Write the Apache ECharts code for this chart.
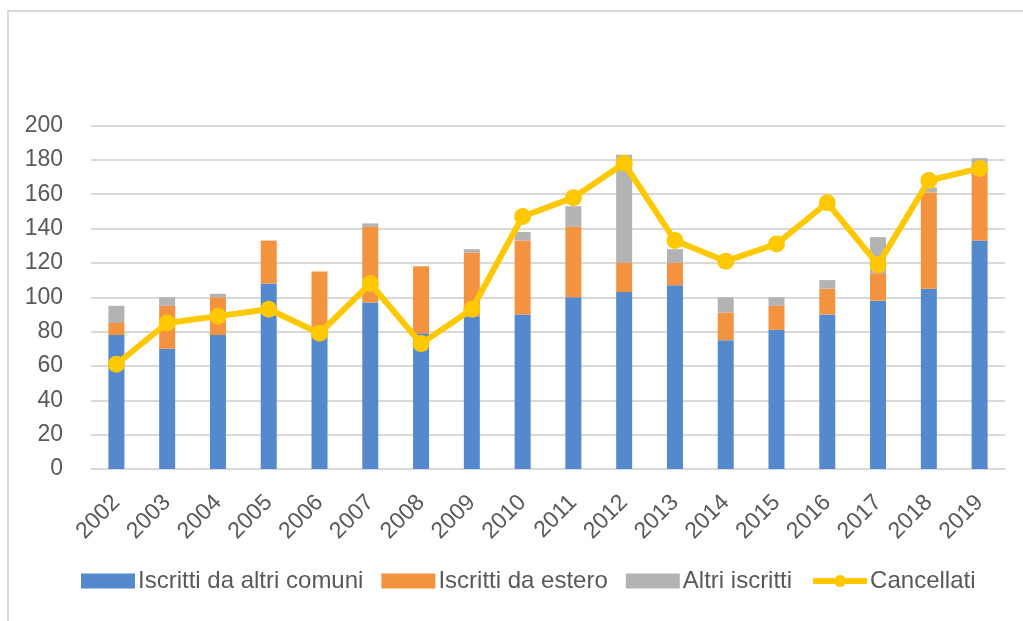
<!DOCTYPE html>
<html>
<head>
<meta charset="utf-8">
<script src="https://cdn.jsdelivr.net/npm/echarts@6/dist/echarts.min.js"></script>
<style>
html,body{margin:0;padding:0;background:#fff;}
#chart{width:1023px;height:621px;}
</style>
</head>
<body>
<div id="chart"></div>
<script>
const years = ['2002','2003','2004','2005','2006','2007','2008','2009','2010','2011','2012','2013','2014','2015','2016','2017','2018','2019'];
const altriComuni = [78,70,78,108,83,97,79,89,90,100,103,107,75,81,90,98,105,133];
const daEstero   = [7,25,22,25,32,44,39,37,43,41,17,13,16,14,15,16,56,41];
const altriIscritti = [10,5,2,0,0,2,0,2,5,12,63,8,9,5,5,21,3,7];
const cancellati = [61,85,89,93,79,108,73,93,147,158,178,133,121,131,155,119,168,175];
const yTicks = {min:0, max:200, interval:20};

const font = '"Liberation Sans", Arial, sans-serif';
const chart = echarts.init(document.getElementById('chart'), null, {renderer:'canvas'});
chart.setOption({
  animation:false,
  backgroundColor:'#ffffff',
  graphic:[{
    type:'rect', shape:{x:8,y:11,width:1100,height:700},
    style:{fill:'none', stroke:'#d9d9d9', lineWidth:2}, silent:true, z:-1
  }],
  grid:{left:91, right:18, top:125.5, bottom:152},
  legend:{
    left:76, top:564, itemWidth:54, itemHeight:15, itemGap:18,
    textStyle:{fontFamily:font, fontSize:24, color:'#595959', padding:[0,0,0,-2]},
    data:[
      {name:'Iscritti da altri comuni', icon:'rect'},
      {name:'Iscritti da estero', icon:'rect'},
      {name:'Altri iscritti', icon:'rect'},
      {name:'Cancellati', lineStyle:{width:6, color:'#FFC800'}, itemStyle:{color:'#FFC800'}}
    ]
  },
  xAxis:{
    type:'category', data:years,
    axisTick:{show:false},
    axisLine:{lineStyle:{color:'#d9d9d9', width:2}},
    axisLabel:{interval:0, rotate:45, fontFamily:font, fontSize:23, color:'#595959', margin:30}
  },
  yAxis:{
    type:'value', min:yTicks.min, max:yTicks.max, interval:yTicks.interval,
    axisLine:{show:false}, axisTick:{show:false},
    splitLine:{lineStyle:{color:'#d9d9d9', width:2}},
    axisLabel:{fontFamily:font, fontSize:23, color:'#595959', margin:28}
  },
  series:[
    {name:'Iscritti da altri comuni', type:'bar', stack:'a', barWidth:16, data:altriComuni, itemStyle:{color:'#5589CE'}},
    {name:'Iscritti da estero', type:'bar', stack:'a', barWidth:16, data:daEstero, itemStyle:{color:'#F39340'}},
    {name:'Altri iscritti', type:'bar', stack:'a', barWidth:16, data:altriIscritti, itemStyle:{color:'#B3B3B3'}},
    {name:'Cancellati', type:'line', data:cancellati, symbol:'circle', symbolSize:17,
     lineStyle:{color:'#FFC800', width:6}, itemStyle:{color:'#FFC800'}, z:5}
  ]
});
</script>
</body>
</html>
